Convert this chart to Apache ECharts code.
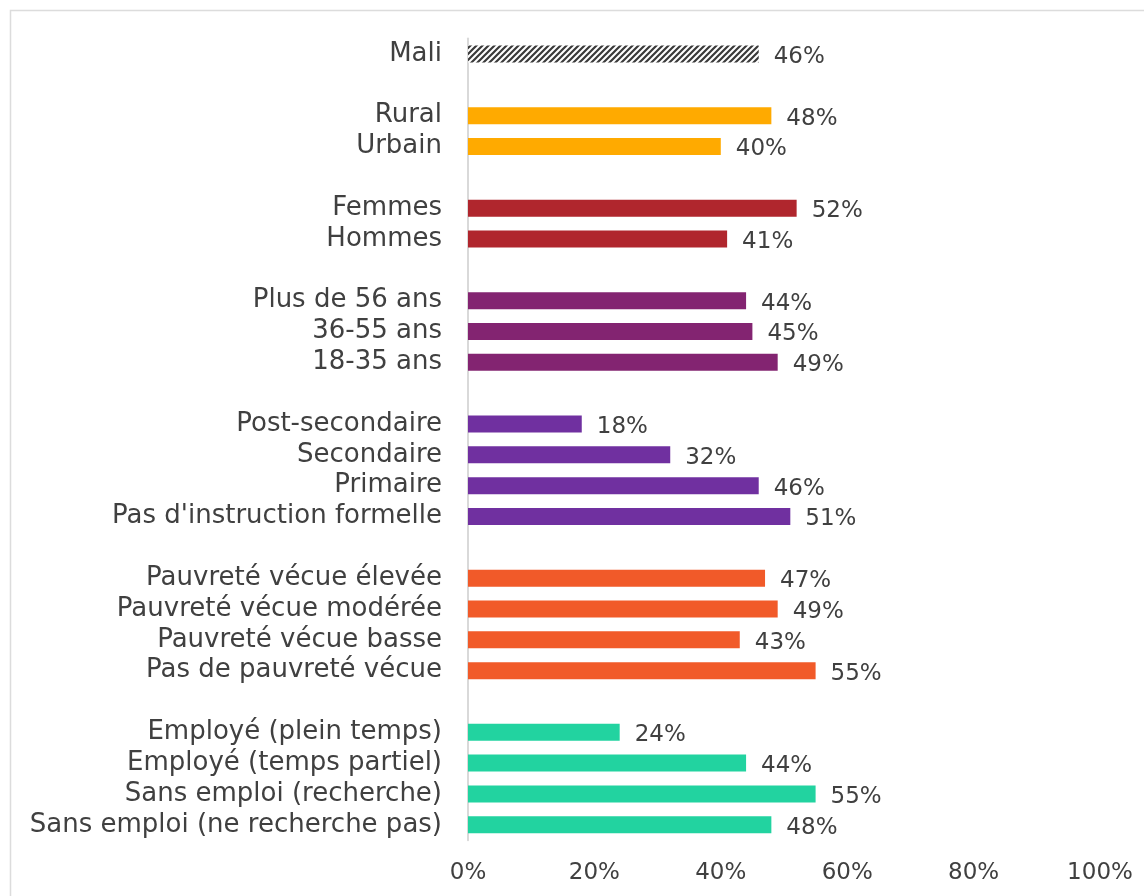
<!DOCTYPE html>
<html><head><meta charset="utf-8">
<script src="https://cdn.jsdelivr.net/npm/echarts@6/dist/echarts.min.js"></script>
<style>html,body{margin:0;padding:0;background:#fff}#c{width:1144px;height:896px}</style>
</head><body><div id="c"></div>
<script>
const categories = ['Mali','', 'Rural','Urbain','', 'Femmes','Hommes','', 'Plus de 56 ans','36-55 ans','18-35 ans','',
  'Post-secondaire','Secondaire','Primaire',"Pas d'instruction formelle",'',
  'Pauvreté vécue élevée','Pauvreté vécue modérée','Pauvreté vécue basse','Pas de pauvreté vécue','',
  'Employé (plein temps)','Employé (temps partiel)','Sans emploi (recherche)','Sans emploi (ne recherche pas)'];
const values = [46,null, 48,40,null, 52,41,null, 44,45,49,null, 18,32,46,51,null, 47,49,43,55,null, 24,44,55,48];
const groups = ['mali',null,'milieu','milieu',null,'genre','genre',null,'age','age','age',null,
  'edu','edu','edu','edu',null,'pauv','pauv','pauv','pauv',null,'emploi','emploi','emploi','emploi'];
const xTicks = [0,20,40,60,80,100];

const palette = {milieu:'#FFAA00', genre:'#B0262D', age:'#832471', edu:'#7030A0', pauv:'#F15A29', emploi:'#22D3A0'};

function hatch(){
  const s = 6, c = document.createElement('canvas');
  c.width = s; c.height = s;
  const g = c.getContext('2d');
  g.fillStyle = '#ffffff'; g.fillRect(0,0,s,s);
  g.strokeStyle = '#3a3a3a'; g.lineWidth = 2.2;
  g.beginPath();
  g.moveTo(-1, s+1); g.lineTo(s+1, -1);
  g.moveTo(-1, 1); g.lineTo(1, -1);
  g.moveTo(s-1, s+1); g.lineTo(s+1, s-1);
  g.stroke();
  return {image: c, repeat: 'repeat'};
}

const data = values.map((v,i)=>{
  if (v === null) return '-';
  const col = groups[i] === 'mali' ? hatch() : palette[groups[i]];
  return {value: v, itemStyle: {color: col}};
});

const font = 'DejaVu Sans';
const chart = echarts.init(document.getElementById('c'));
chart.setOption({
  animation: false,
  backgroundColor: '#fff',
  graphic: [{type:'rect', shape:{x:10.5,y:10.5,width:1200,height:1000}, style:{fill:'none', stroke:'#dcdcdc', lineWidth:1.5}, silent:true}],
  grid: {left: 468, right: 44, top: 38.6, bottom: 55.8, containLabel: false},
  xAxis: {type:'value', min: xTicks[0], max: xTicks[xTicks.length-1], interval: 20,
    axisLine:{show:false}, axisTick:{show:false}, splitLine:{show:false},
    axisLabel:{formatter:'{value}%', color:'#404040', fontFamily: font, fontSize: 23, margin: 21}},
  yAxis: {type:'category', inverse:true, data: categories,
    axisLine:{show:true, lineStyle:{color:'#d9d9d9', width:2}}, axisTick:{show:false},
    axisLabel:{color:'#404040', fontFamily: font, fontSize: 26, margin: 26, interval: 0}},
  series: [{type:'bar', data: data, barWidth: 17,
    label:{show:true, position:'right', distance: 15, offset:[0,3], formatter:'{c}%', color:'#404040', fontFamily: font, fontSize: 23}}]
});
</script></body></html>
